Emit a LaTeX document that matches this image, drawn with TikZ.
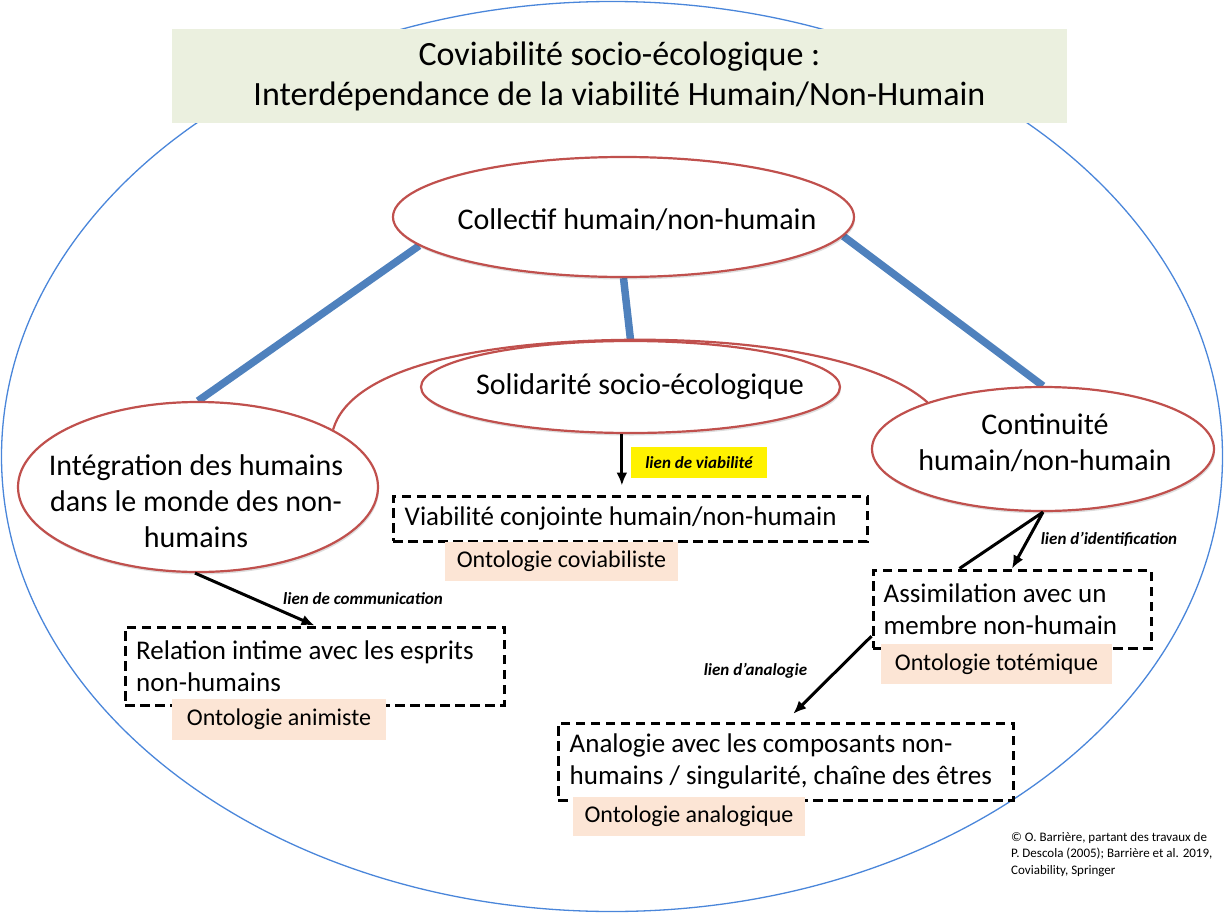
\documentclass[tikz,border=0pt]{standalone}
\usepackage{fontspec}
\setmainfont{Carlito}
\usetikzlibrary{shapes.geometric,arrows.meta,shadows,calc}
\definecolor{redE}{HTML}{C0504D}
\definecolor{blueL}{HTML}{4F81BD}
\definecolor{blueO}{HTML}{4A86DA}
\definecolor{titleF}{HTML}{EBF0DF}
\definecolor{peach}{HTML}{FCE5D5}
\pgfdeclarelayer{bg}
\pgfsetlayers{bg,main}
\newcommand{\myfs}[2]{\fontsize{#1}{#2}\selectfont}
\begin{document}
\begin{tikzpicture}[x=1pt,y=-1pt,
  ell/.style={ellipse,draw=redE,line width=2.2pt,fill=white,inner sep=0pt,
    drop shadow={shadow xshift=1pt,shadow yshift=-2.5pt,opacity=0.13,fill=black}},
  etxt/.style={inner sep=0pt,align=center,font=\myfs{30}{36}},
  dbox/.style={draw=black,line width=3pt,dash pattern=on 9.5pt off 5.5pt,inner sep=0pt},
  btxt/.style={inner sep=0pt,align=left,font=\myfs{27}{31.5}},
  onto/.style={fill=peach,inner sep=0pt,font=\myfs{24}{28}},
  lbl/.style={inner sep=0pt,font=\myfs{17}{20}\bfseries\itshape},
  bline/.style={draw=blueL,line width=7.5pt},
  arr/.style={draw=black,line width=3pt,-{Latex[length=13pt,width=11pt]}}
]
\useasboundingbox (0,0) rectangle (1224,913);

% ellipses
\node[ell,minimum width=461pt,minimum height=120pt] (coll) at (623.5,217) {};
\node[ell,minimum width=419pt,minimum height=92pt] (sol) at (630.5,387) {};
\node[ell,minimum width=360pt,minimum height=170pt] (integ) at (198,487) {};
\node[ell,minimum width=342pt,minimum height=124pt] (cont) at (1043,449) {};

\node[etxt] (tcoll) at (637,220) {Collectif humain/non-humain};
\node[etxt] (tsol) at (640,387) {Solidarité socio-écologique};
\node[etxt] (tinteg) at (196,501) {Intégration des humains\\dans le monde des non-\\humains};
\node[etxt] (tcont) at (1045,442.5) {Continuité\\humain/non-humain};

% title
\node[fill=titleF,minimum width=895pt,minimum height=94pt,inner sep=0pt,align=center,font=\myfs{34}{40}] (title) at (619.5,76)
  {Coviabilité socio-écologique :\\Interdépendance de la viabilité Humain/Non-Humain};

% dashed boxes
\node[dbox,minimum width=379pt,minimum height=78pt] (rel) at (314.5,666) {};
\node[btxt,anchor=west] (trel) at ([xshift=12.5pt]rel.west) {Relation intime avec les esprits\\non-humains};
\node[dbox,minimum width=474pt,minimum height=45pt] (via) at (630,518.5) {};
\node[btxt,anchor=west] (tvia) at ([xshift=13pt]via.west) {Viabilité conjointe humain/non-humain};
\node[dbox,minimum width=278pt,minimum height=78pt] (assim) at (1012,609) {};
\node[btxt,anchor=west] (tassim) at ([xshift=12pt]assim.west) {Assimilation avec un\\membre non-humain};
\node[dbox,minimum width=455pt,minimum height=77pt] (ana) at (785.5,761.5) {};
\node[btxt,anchor=west] (tana) at ([xshift=13pt]ana.west) {Analogie avec les composants non-\\humains / singularité, chaîne des êtres};

% ontology labels
\node[onto,minimum width=214pt,minimum height=41pt] (o1) at (279,719.5) {Ontologie animiste};
\node[onto,minimum width=233pt,minimum height=39pt] (o2) at (561.5,561.5) {Ontologie coviabiliste};
\node[onto,minimum width=231pt,minimum height=40pt] (o3) at (996.5,664) {Ontologie totémique};
\node[onto,minimum width=232pt,minimum height=39pt] (o4) at (689,816.5) {Ontologie analogique};

% link labels
\node[fill=yellow,minimum width=136pt,minimum height=31pt,inner sep=0pt,font=\myfs{17}{20}\bfseries\itshape] (ly) at (699,462.5) {lien de viabilité};
\node[lbl] (lcom) at (363,599) {lien de communication};
\node[lbl] (lid) at (1109,539) {lien d’identification};
\node[lbl] (lana) at (755.5,671) {lien d’analogie};

% copyright
\node[inner sep=0pt,anchor=west,align=left,font=\myfs{13}{16.5}] (copy) at (1011,854.5)
  {© O. Barrière, partant des travaux de\\P. Descola (2005); Barrière et al. 2019,\\Coviability, Springer};

% background layer
\begin{pgfonlayer}{bg}
\node[ellipse,draw=blueO,line width=1.3pt,minimum width=1221pt,minimum height=910pt,inner sep=0pt] (frame) at (612,456.5) {};
\draw[bline] (coll.188) -- (integ.north);
\draw[bline] (coll.south) -- (sol.north);
\draw[bline] (coll.-5) -- (cont.north);
\coordinate (arctop) at (615,340);
\draw[draw=redE,line width=2.2pt] (integ.23) .. controls (350,370) and (470,343) .. (arctop)
   .. controls (760,337) and (880,360) .. (cont.158);
\end{pgfonlayer}

% arrows
\draw[arr] (integ.268) -- (rel.north);
\coordinate (vtop) at ($(via.north west)!0.483!(via.north east)$);
\draw[arr,shorten >=9pt] (vtop |- sol.south) -- (vtop);
\coordinate (idl) at ($(assim.north west)!0.313!(assim.north east)$);
\draw[line width=3pt] (idl) -- (cont.south);
\draw[arr] (cont.south) -- (assim.north);
\coordinate (anas) at ($(assim.west)!0.67!(assim.south west)$);
\draw[arr,shorten >=11pt] (anas) -- (ana.north);
\end{tikzpicture}
\end{document}
